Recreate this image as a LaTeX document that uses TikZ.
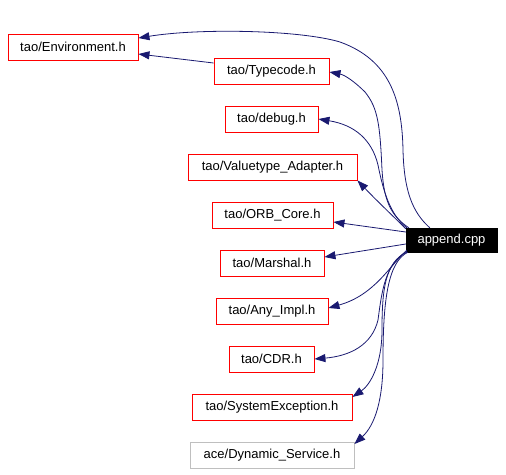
\documentclass[tikz,border=0pt]{standalone}
\usepackage{fontspec}
\setmainfont{Liberation Sans}
\usetikzlibrary{arrows.meta,calc}
\definecolor{edgeblue}{HTML}{191970}
\definecolor{boxred}{HTML}{FF0000}
\definecolor{boxgray}{HTML}{BFBFBF}
\tikzset{
  filebox/.style={draw=boxred, line width=0.9pt, minimum height=26pt, inner sep=0pt, font=\fontsize{13}{15}\selectfont, text=black},
  graybox/.style={filebox, draw=boxgray},
  mainbox/.style={fill=black, draw=black, minimum height=24pt, inner sep=0pt, font=\fontsize{13}{15}\selectfont, text=white},
  edge/.style={draw=edgeblue, line width=0.8pt, -{Triangle[length=11pt,width=8pt]}, color=edgeblue},
}
\begin{document}
\begin{tikzpicture}[x=1pt,y=-1pt]
\useasboundingbox (0,0) rectangle (506,474);
\node[filebox, minimum width=130pt] (env) at (73,47) {tao/Environment.h};
\node[filebox, minimum width=115pt] (type) at (271.5,71) {tao/Typecode.h};
\node[filebox, minimum width=93pt] (debug) at (271.5,119) {tao/debug.h};
\node[filebox, minimum width=169pt] (value) at (272.5,167) {tao/Valuetype\_Adapter.h};
\node[filebox, minimum width=121pt] (orb) at (272.5,215) {tao/ORB\_Core.h};
\node[filebox, minimum width=104pt] (marshal) at (272,263) {tao/Marshal.h};
\node[filebox, minimum width=112pt] (any) at (272,311) {tao/Any\_Impl.h};
\node[filebox, minimum width=85pt] (cdr) at (271.5,359) {tao/CDR.h};
\node[filebox, minimum width=160pt] (sysex) at (272,407) {tao/SystemException.h};
\node[graybox, minimum width=164pt] (dyn) at (272,455) {ace/Dynamic\_Service.h};
\node[mainbox, minimum width=91pt] (append) at (451.5,240) {append.cpp};

\draw[edge] ($(append.north west)+(24,0)$) .. controls (412,212) and (404,190) .. (403,150)
  .. controls (402,100) and (390,60) .. (340,42) .. controls (300,30) and (200,28) .. ($(env.east)+(0,-9)$);
\draw[edge] ($(type.west)+(0,-8)$) -- ($(env.east)+(0,7)$);
\draw[edge] ($(append.north west)+(3,0)$) .. controls (390,215) and (384,200) .. (382,170)
  .. controls (380,125) and (378,108) .. (365,92) .. controls (355,82) and (345,75) .. ($(type.east)+(0,1)$);
\draw[edge] ($(append.north west)+(1,0)$) .. controls (390,215) and (383,190) .. (378,165)
  .. controls (372,140) and (355,125) .. (debug.east);
\draw[edge] ($(append.north west)+(0,1)$) .. controls (392,215) and (378,202) .. (value.south east);
\draw[edge] ($(append.west)+(0,-8)$) -- ($(orb.east)+(0,7)$);
\draw[edge] ($(append.west)+(0,4)$) -- ($(marshal.east)+(0,-6)$);
\draw[edge] ($(append.south west)+(1,-2)$) .. controls (390,265) and (375,295) .. ($(any.east)+(0,-3)$);
\draw[edge] ($(append.south west)+(1,-1)$) .. controls (385,265) and (382,290) .. (378,320)
  .. controls (372,345) and (350,356) .. (cdr.east);
\draw[edge] ($(append.south west)+(1,0)$) .. controls (385,262) and (382,290) .. (382,330)
  .. controls (382,365) and (370,385) .. ($(sysex.east)+(0,-10)$);
\draw[edge] ($(append.south west)+(2,0)$) .. controls (388,262) and (383,300) .. (383,360)
  .. controls (383,400) and (375,425) .. ($(dyn.east)+(0,-11)$);
\end{tikzpicture}
\end{document}
